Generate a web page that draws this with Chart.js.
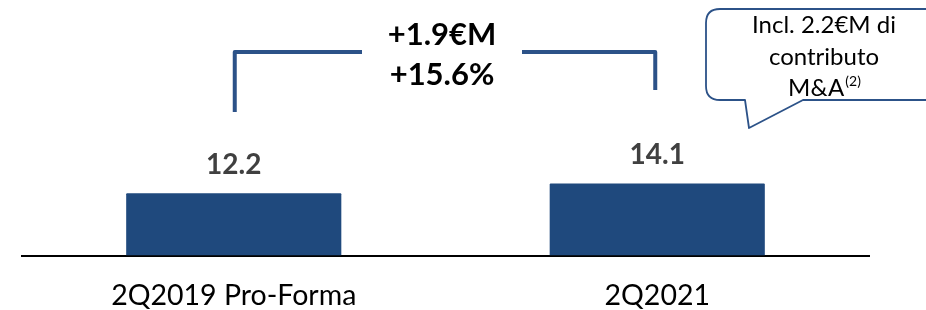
<!DOCTYPE html>
<html>
<head>
<meta charset="utf-8">
<script src="https://cdn.jsdelivr.net/npm/chart.js@4/dist/chart.umd.min.js"></script>
<style>
  html, body { margin: 0; padding: 0; background: #fff; }
  #wrap { width: 926px; height: 310px; position: relative; }
</style>
</head>
<body>
<div id="wrap"><canvas id="chart"></canvas></div>
<script>
  const categories = ["2Q2019 Pro-Forma", "2Q2021"];
  const values = [12.2, 14.1];
  const deltaLabels = ["+1.9€M", "+15.6%"];
  const calloutLines = ["Incl. 2.2€M di", "contributo", "M&A"];
  const calloutNote = "(2)";

  const BAR_COLOR = "#1f497d";
  const LINE_COLOR = "#2c5288";
  const FONT = "Lato, 'Open Sans', sans-serif";

  const overlay = {
    id: "overlay",
    afterDatasetsDraw(chart) {
      const ctx = chart.ctx;
      const y = chart.scales.y;
      const bars = chart.getDatasetMeta(0).data;

      // value labels above bars
      ctx.save();
      ctx.font = "bold 28px " + FONT;
      ctx.fillStyle = "#404040";
      ctx.textAlign = "center";
      ctx.textBaseline = "middle";
      bars.forEach((bar, i) => {
        ctx.fillText(values[i].toFixed(1), bar.x, bar.y - 28);
      });

      // bracket between bars
      const x0 = bars[0].x + 1;
      const x1 = bars[1].x - 2;
      const top = y.getPixelForValue(39.8);
      const mid = (x0 + x1) / 2 - 3;
      ctx.strokeStyle = LINE_COLOR;
      ctx.lineWidth = 4;
      ctx.lineJoin = "round";
      ctx.beginPath();
      ctx.moveTo(x0, y.getPixelForValue(28.1));
      ctx.lineTo(x0, top);
      ctx.lineTo(mid - 80, top);
      ctx.moveTo(mid + 80, top);
      ctx.lineTo(x1, top);
      ctx.lineTo(x1, y.getPixelForValue(32.4));
      ctx.stroke();

      ctx.font = "bold 31px " + FONT;
      ctx.fillStyle = "#000";
      ctx.fillText(deltaLabels[0], mid, 35);
      ctx.fillText(deltaLabels[1], mid, 75);

      // callout bubble
      const bx = 706, by = 9, bb = 100, r = 14;
      ctx.beginPath();
      ctx.moveTo(bx + r, by);
      ctx.lineTo(940, by);
      ctx.lineTo(940, bb);
      ctx.lineTo(803, bb);
      ctx.lineTo(749, 128);
      ctx.lineTo(745, bb);
      ctx.lineTo(bx + r, bb);
      ctx.quadraticCurveTo(bx, bb, bx, bb - r);
      ctx.lineTo(bx, by + r);
      ctx.quadraticCurveTo(bx, by, bx + r, by);
      ctx.closePath();
      ctx.fillStyle = "#fff";
      ctx.fill();
      ctx.strokeStyle = LINE_COLOR;
      ctx.lineWidth = 1.8;
      ctx.stroke();

      ctx.fillStyle = "#000";
      ctx.font = "24px " + FONT;
      ctx.fillText(calloutLines[0], 824, 25);
      ctx.fillText(calloutLines[1], 824, 57);
      const w = ctx.measureText(calloutLines[2]).width;
      ctx.font = "14px " + FONT;
      const sw = ctx.measureText(calloutNote).width;
      const sx = 824 - (w + sw) / 2;
      ctx.textAlign = "left";
      ctx.font = "24px " + FONT;
      ctx.fillText(calloutLines[2], sx, 88);
      ctx.font = "14px " + FONT;
      ctx.fillText(calloutNote, sx + w + 1, 81);
      ctx.restore();
    }
  };

  new Chart(document.getElementById("chart"), {
    type: "bar",
    data: {
      labels: categories,
      datasets: [{
        data: values,
        backgroundColor: BAR_COLOR,
        borderRadius: 1,
        categoryPercentage: 1,
        barPercentage: 0.508
      }]
    },
    options: {
      responsive: true,
      maintainAspectRatio: false,
      animation: false,
      layout: { padding: { left: 22, right: 57, top: 0, bottom: 0 } },
      plugins: { legend: { display: false }, tooltip: { enabled: false } },
      scales: {
        x: {
          grid: { display: false },
          border: { display: true, color: "#000", width: 2 },
          ticks: { color: "#000", font: { family: FONT, size: 28.5, lineHeight: 1.1 }, padding: 17 },
          afterFit(scale) { scale.height = 54.5; }
        },
        y: { display: false, min: 0, max: 50 }
      }
    },
    plugins: [overlay]
  });
</script>
</body>
</html>
